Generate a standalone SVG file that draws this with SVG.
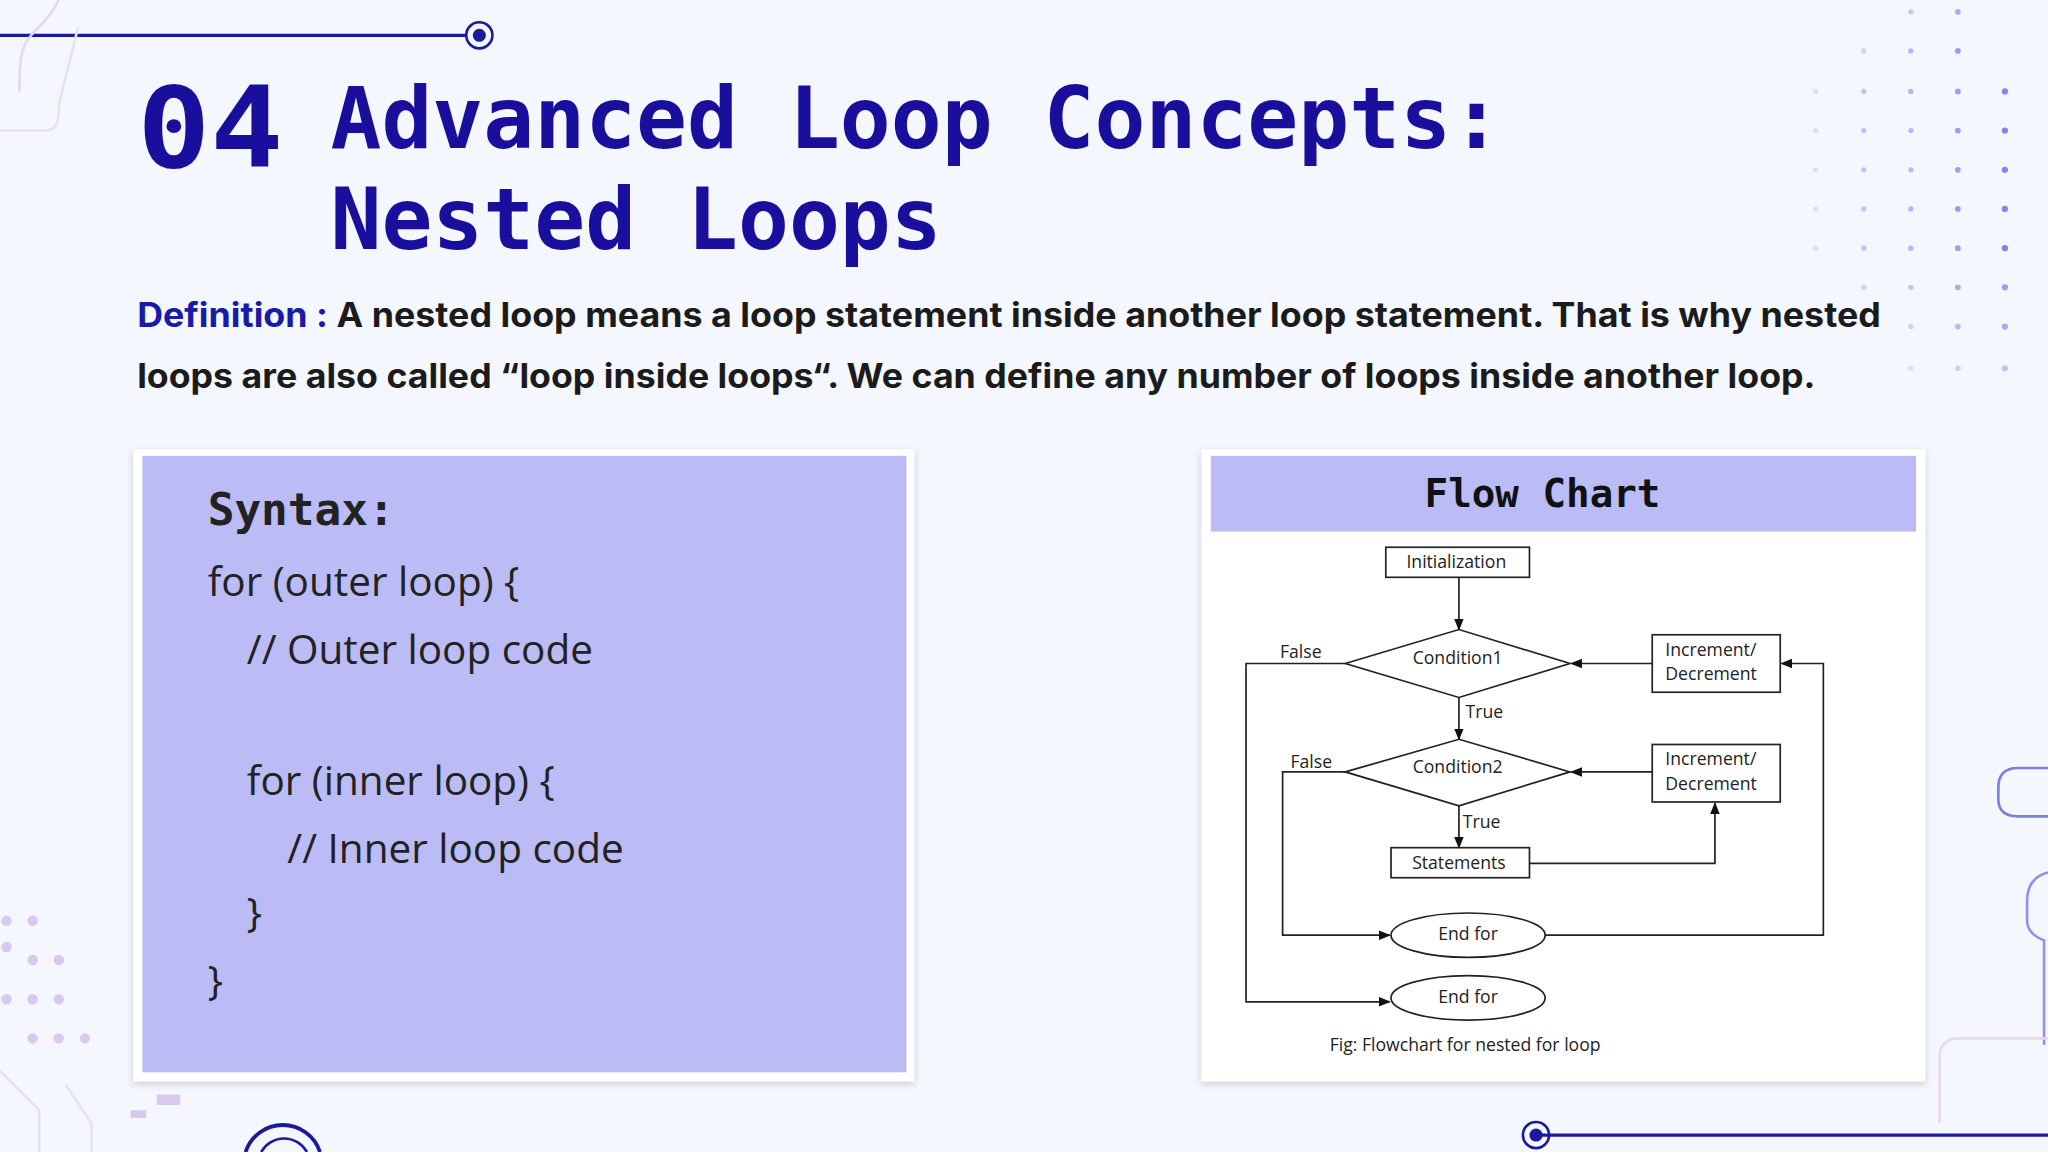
<svg xmlns="http://www.w3.org/2000/svg" width="2048" height="1152" viewBox="0 0 2048 1152">
<defs>
<style>
.mono{font-family:"DejaVu Sans Mono","Liberation Mono",monospace;font-weight:700}
.def{font-family:Inter,"Noto Sans",sans-serif;font-weight:700;font-size:26px;fill:#1b1b1b}
.code{font-family:"Open Sans","Noto Sans",sans-serif;font-size:31px;fill:#222}
.fc{font-family:"Open Sans","Liberation Sans",sans-serif;font-size:13.5px;fill:#222}
.ln{fill:none;stroke:#222;stroke-width:1.3}
.sh{fill:none;stroke:#222;stroke-width:1.3}
.dot{fill:#6f7bea}
</style>
<marker id="ah" viewBox="0 0 10 10" refX="9" refY="5" markerWidth="7" markerHeight="7" orient="auto"><path d="M0,1 L10,5 L0,9 z" fill="#111"/></marker>
<filter id="shd" x="-5%" y="-5%" width="110%" height="110%"><feDropShadow dx="0" dy="2" stdDeviation="3" flood-color="#000" flood-opacity="0.18"/></filter>
</defs>
<rect width="2048" height="1152" fill="#f4f7fe"/>
<g transform="scale(1.306122)">
<g id="deco">
<line x1="0" y1="27" x2="357" y2="27" stroke="#1a1a9c" stroke-width="2.5"/>
<circle cx="367" cy="27" r="10" fill="none" stroke="#1a1a9c" stroke-width="2"/>
<circle cx="367" cy="27" r="5" fill="#1a1a9c"/>
<path d="M45,0 C30,30 15,20 15,60 L15,70" fill="none" stroke="#e6d6f2" stroke-width="2"/>
<path d="M0,100 L35,100 C45,100 45,90 45,80 L60,20" fill="none" stroke="#e6e1f4" stroke-width="2"/>
<line x1="1176" y1="869" x2="1568" y2="869" stroke="#1a1a9c" stroke-width="2.5"/>
<circle cx="1176" cy="869" r="10" fill="none" stroke="#1a1a9c" stroke-width="2"/>
<circle cx="1176" cy="869" r="5" fill="#1a1a9c"/>
<path d="M1568,588 L1545,588 Q1530,588 1530,603 L1530,612 Q1530,625 1545,625 L1568,625" fill="none" stroke="#7b7fe0" stroke-width="2"/>
<path d="M1568,668 Q1552,672 1552,690 L1552,705 Q1552,715 1565,720 L1565,800" fill="none" stroke="#8f93e8" stroke-width="2"/>
<path d="M1568,795 L1500,795 Q1485,795 1485,810 L1485,860" fill="none" stroke="#e7d9f3" stroke-width="2"/>
<path d="M188,882 A30,30 0 0 1 245,882" fill="none" stroke="#1a1a9c" stroke-width="3"/>
<path d="M200,882 A20,20 0 0 1 235,882" fill="none" stroke="#1a1a9c" stroke-width="2"/>
<g fill="#d9c8ef">
<circle cx="5" cy="705" r="4"/><circle cx="25" cy="705" r="4"/><circle cx="5" cy="725" r="4"/><circle cx="25" cy="735" r="4"/><circle cx="45" cy="735" r="4"/>
<circle cx="5" cy="765" r="4"/><circle cx="25" cy="765" r="4"/><circle cx="45" cy="765" r="4"/><circle cx="25" cy="795" r="4"/><circle cx="45" cy="795" r="4"/><circle cx="65" cy="795" r="4"/>
<rect x="120" y="838" width="18" height="8"/><rect x="100" y="850" width="12" height="6"/>
</g>
<path d="M0,820 L30,850 L30,882 M50,830 L70,860 L70,882" fill="none" stroke="#e3e3f3" stroke-width="2"/>
<g class="dot">
<circle cx="1463" cy="9" r="2" opacity=".4"/><circle cx="1499" cy="9" r="2.2" opacity=".6"/>
<circle cx="1427" cy="39" r="2" opacity=".3"/><circle cx="1463" cy="39" r="2" opacity=".5"/><circle cx="1499" cy="39" r="2.2" opacity=".7"/>
<circle cx="1390" cy="70" r="2" opacity=".2"/><circle cx="1427" cy="70" r="2" opacity=".4"/><circle cx="1463" cy="70" r="2" opacity=".5"/><circle cx="1499" cy="70" r="2.2" opacity=".7"/><circle cx="1535" cy="70" r="2.4" opacity=".9"/>
<circle cx="1390" cy="100" r="2" opacity=".2"/><circle cx="1427" cy="100" r="2" opacity=".4"/><circle cx="1463" cy="100" r="2" opacity=".5"/><circle cx="1499" cy="100" r="2.2" opacity=".7"/><circle cx="1535" cy="100" r="2.4" opacity=".9"/>
<circle cx="1390" cy="130" r="2" opacity=".2"/><circle cx="1427" cy="130" r="2" opacity=".4"/><circle cx="1463" cy="130" r="2" opacity=".5"/><circle cx="1499" cy="130" r="2.2" opacity=".7"/><circle cx="1535" cy="130" r="2.4" opacity=".9"/>
<circle cx="1390" cy="160" r="2" opacity=".2"/><circle cx="1427" cy="160" r="2" opacity=".4"/><circle cx="1463" cy="160" r="2" opacity=".5"/><circle cx="1499" cy="160" r="2.2" opacity=".7"/><circle cx="1535" cy="160" r="2.4" opacity=".9"/>
<circle cx="1390" cy="190" r="2" opacity=".2"/><circle cx="1427" cy="190" r="2" opacity=".4"/><circle cx="1463" cy="190" r="2" opacity=".5"/><circle cx="1499" cy="190" r="2.2" opacity=".7"/><circle cx="1535" cy="190" r="2.4" opacity=".9"/>
<circle cx="1427" cy="220" r="2" opacity=".3"/><circle cx="1463" cy="220" r="2" opacity=".4"/><circle cx="1499" cy="220" r="2.2" opacity=".6"/><circle cx="1535" cy="220" r="2.4" opacity=".7"/>
<circle cx="1463" cy="250" r="2" opacity=".3"/><circle cx="1499" cy="250" r="2.2" opacity=".5"/><circle cx="1535" cy="250" r="2.4" opacity=".6"/>
<circle cx="1463" cy="282" r="2" opacity=".2"/><circle cx="1499" cy="282" r="2.2" opacity=".3"/><circle cx="1535" cy="282" r="2.4" opacity=".4"/>
</g>
</g>
<g id="title" fill="#1a0f9c">
<text class="mono" x="105" y="128" font-size="86" textLength="112" lengthAdjust="spacingAndGlyphs">04</text>
<text class="mono" x="253" y="113" font-size="65" textLength="897" lengthAdjust="spacingAndGlyphs">Advanced Loop Concepts:</text>
<text class="mono" x="253" y="191" font-size="65" textLength="468" lengthAdjust="spacingAndGlyphs">Nested Loops</text>
</g>
<g id="definition">
<text class="def" x="105" y="250" textLength="1335" lengthAdjust="spacingAndGlyphs"><tspan fill="#1a1aa8">Definition : </tspan>A nested loop means a loop statement inside another loop statement. That is why nested</text>
<text class="def" x="105" y="297" textLength="1285" lengthAdjust="spacingAndGlyphs">loops are also called “loop inside loops“. We can define any number of loops inside another loop.</text>
</g>
<g id="syntax">
<rect x="102" y="344" width="598" height="484" fill="#fff" filter="url(#shd)"/>
<rect x="109" y="349" width="585" height="472" fill="#bbbcf5"/>
<text class="mono" x="159" y="402" font-size="34" fill="#222">Syntax:</text>
<text class="code" x="159" y="456">for (outer loop) {</text>
<text class="code" x="189" y="508">// Outer loop code</text>
<text class="code" x="189" y="609">for (inner loop) {</text>
<text class="code" x="220" y="661">// Inner loop code</text>
<text class="code" x="189" y="710">}</text>
<text class="code" x="159" y="762">}</text>
</g>
<g id="flowpanel">
<rect x="920" y="344" width="554" height="484" fill="#fff" filter="url(#shd)"/>
<rect x="927" y="349" width="540" height="58" fill="#bbbcf5"/>
<text class="mono" x="1181" y="388" font-size="30" fill="#111" text-anchor="middle">Flow Chart</text>
</g>
<g id="connectors">
<path class="ln" d="M1117,442 V482" marker-end="url(#ah)"/>
<path class="ln" d="M1265,508 H1203" marker-end="url(#ah)"/>
<path class="ln" d="M1030,508 H954 V767 H1064" marker-end="url(#ah)"/>
<path class="ln" d="M1117,534 V566" marker-end="url(#ah)"/>
<path class="ln" d="M1265,591 H1203" marker-end="url(#ah)"/>
<path class="ln" d="M1030,591 H982 V716 H1064" marker-end="url(#ah)"/>
<path class="ln" d="M1117,617 V649" marker-end="url(#ah)"/>
<path class="ln" d="M1171,661 H1313 V615" marker-end="url(#ah)"/>
<path class="ln" d="M1183,716 H1396 V508 H1364" marker-end="url(#ah)"/>
<text class="fc" x="980" y="504">False</text>
<text class="fc" x="988" y="588">False</text>
<text class="fc" x="1122" y="550">True</text>
<text class="fc" x="1120" y="634">True</text>
</g>
<g id="init"><rect class="sh" x="1061" y="419" width="110" height="23" fill="#fff"/><text class="fc" x="1115" y="435" text-anchor="middle">Initialization</text></g>
<g id="cond1"><polygon class="sh" points="1030,508 1117,482 1202,508 1117,534"/><text class="fc" x="1116" y="508" text-anchor="middle">Condition1</text></g>
<g id="inc1"><rect class="sh" x="1265" y="486" width="98" height="44"/><text class="fc" x="1275" y="502">Increment/</text><text class="fc" x="1275" y="521">Decrement</text></g>
<g id="cond2"><polygon class="sh" points="1030,591 1117,566 1202,591 1117,617"/><text class="fc" x="1116" y="592" text-anchor="middle">Condition2</text></g>
<g id="inc2"><rect class="sh" x="1265" y="570" width="98" height="44"/><text class="fc" x="1275" y="586">Increment/</text><text class="fc" x="1275" y="605">Decrement</text></g>
<g id="stmts"><rect class="sh" x="1065" y="649" width="106" height="23"/><text class="fc" x="1117" y="665" text-anchor="middle">Statements</text></g>
<g id="endfor1"><ellipse class="sh" cx="1124" cy="716" rx="59" ry="17"/><text class="fc" x="1124" y="720" text-anchor="middle">End for</text></g>
<g id="endfor2"><ellipse class="sh" cx="1124" cy="764" rx="59" ry="17"/><text class="fc" x="1124" y="768" text-anchor="middle">End for</text></g>
<g id="caption"><text class="fc" x="1018" y="805" font-size="14.5">Fig: Flowchart for nested for loop</text></g>
</g>
</svg>
